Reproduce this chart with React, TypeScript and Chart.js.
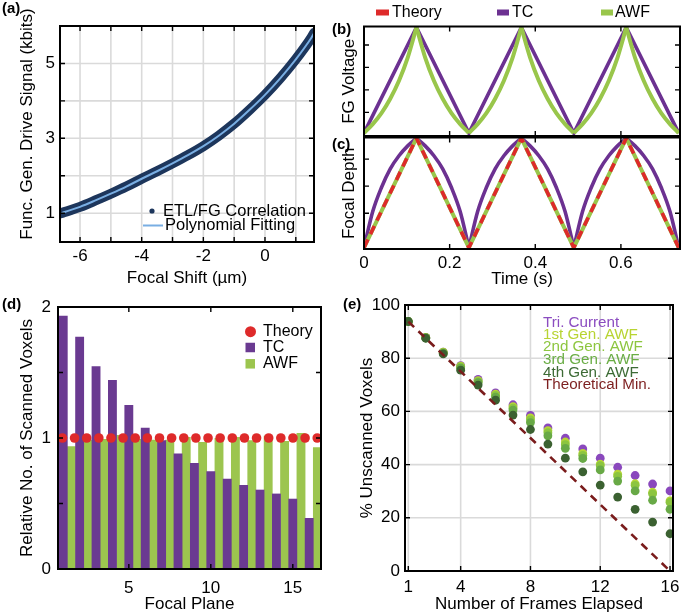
import React, { useEffect, useRef } from "react";
import { Chart, registerables } from "chart.js";

Chart.register(...registerables);

const FONT = "'Liberation Sans', Arial, Helvetica, sans-serif";
const W = 682;
const H = 615;
const TICK_SIZE = 17;
const TITLE_SIZE = 17;

// ---------------- (a) ----------------
const focalShift = [-6.6, -6.5, -6, -5.5, -5, -4.5, -4, -3.5, -3, -2.5, -2, -1.5, -1, -0.5, 0, 0.5, 1, 1.5, 1.6];
const etlFgSignal = [1.0, 1.03, 1.17, 1.34, 1.52, 1.71, 1.92, 2.12, 2.33, 2.55, 2.79, 3.07, 3.39, 3.76, 4.16, 4.61, 5.11, 5.68, 5.82];
const fitSignal = [1.0, 1.03, 1.17, 1.34, 1.52, 1.71, 1.92, 2.12, 2.33, 2.55, 2.79, 3.07, 3.39, 3.76, 4.16, 4.61, 5.11, 5.68, 5.82];
const shiftTicks = [-6, -5, -4, -3, -2, -1, 0, 1];
const shiftTickLabels = [-6, -4, -2, 0];
const signalTicks = [1, 2, 3, 4, 5, 6];
const signalTickLabels = [1, 3, 5];

// ---------------- (b) / (c) ----------------
const vertexTime = [0, 0.1225, 0.245, 0.3675, 0.49, 0.6125, 0.735];
const tcVoltage = [1.08, 5.78, 1.08, 5.78, 1.08, 5.78, 1.08];
const theoryDepth = [-6.55, 1.55, -6.55, 1.55, -6.55, 1.55, -6.55];
const awfDepth = [-6.55, 1.55, -6.55, 1.55, -6.55, 1.55, -6.55];
const sampleTime = [
  0, 0.0204, 0.0408, 0.0613, 0.0817, 0.1021, 0.1225, 0.1429, 0.1633, 0.1838, 0.2042, 0.2246, 0.245,
  0.2654, 0.2858, 0.3063, 0.3267, 0.3471, 0.3675, 0.3879, 0.4083, 0.4288, 0.4492, 0.4696, 0.49,
  0.5104, 0.5308, 0.5513, 0.5717, 0.5921, 0.6125, 0.6329, 0.6533, 0.6738, 0.6942, 0.7146, 0.735,
];
const awfVoltage = [
  1.08, 1.48, 1.97, 2.61, 3.41, 4.44, 5.78, 4.44, 3.41, 2.61, 1.97, 1.48, 1.08,
  1.48, 1.97, 2.61, 3.41, 4.44, 5.78, 4.44, 3.41, 2.61, 1.97, 1.48, 1.08,
  1.48, 1.97, 2.61, 3.41, 4.44, 5.78, 4.44, 3.41, 2.61, 1.97, 1.48, 1.08,
];
const tcDepth = [
  -6.55, -3.88, -2.1, -0.72, 0.25, 0.98, 1.55, 0.98, 0.25, -0.72, -2.1, -3.88, -6.55,
  -3.88, -2.1, -0.72, 0.25, 0.98, 1.55, 0.98, 0.25, -0.72, -2.1, -3.88, -6.55,
  -3.88, -2.1, -0.72, 0.25, 0.98, 1.55, 0.98, 0.25, -0.72, -2.1, -3.88, -6.55,
];
const timeTicks = [0, 0.2, 0.4, 0.6];
const voltageTicks = [2, 3, 4, 5];
const depthTicks = [-4, -2, 0];

// ---------------- (d) ----------------
const focalPlane = [1, 2, 3, 4, 5, 6, 7, 8, 9, 10, 11, 12, 13, 14, 15, 16];
const awfBarPlane = [1.5, 2.5, 3.5, 4.5, 5.5, 6.5, 7.5, 8.5, 9.5, 10.5, 11.5, 12.5, 13.5, 14.5, 15.5, 16.5];
const tcVoxels = [1.93, 1.77, 1.545, 1.44, 1.25, 1.075, 0.98, 0.88, 0.807, 0.743, 0.687, 0.639, 0.603, 0.573, 0.534, 0.387];
const awfVoxels = [0.935, 0.985, 0.99, 1.02, 0.99, 0.985, 0.985, 1.005, 0.967, 0.998, 1.005, 0.98, 1.015, 0.975, 1.036, 0.926];
const theoryPlane = [0.95, 1.69, 2.43, 3.17, 3.91, 4.65, 5.39, 6.13, 6.87, 7.61, 8.35, 9.09, 9.83, 10.57, 11.31, 12.05, 12.79, 13.53, 14.27, 15.01, 15.75, 16.49];
const theoryVoxels = [1, 1, 1, 1, 1, 1, 1, 1, 1, 1, 1, 1, 1, 1, 1, 1, 1, 1, 1, 1, 1, 1];
const planeTicks = [5, 10, 15];
const voxelTicks = [0, 0.5, 1, 1.5, 2];
const voxelTickLabels = [0, 1, 2];

// ---------------- (e) ----------------
const frames = [1, 2, 3, 4, 5, 6, 7, 8, 9, 10, 11, 12, 13, 14, 15, 16];
const triCurrent = [93.8, 87.8, 82.3, 77.2, 72.0, 67.0, 62.5, 58.5, 53.8, 49.9, 45.9, 42.4, 39.0, 35.9, 32.7, 30.1];
const gen1Awf = [93.8, 87.8, 82.3, 77.0, 71.6, 66.5, 61.8, 57.6, 52.8, 48.5, 44.2, 40.2, 36.4, 32.8, 29.6, 26.4];
const gen2Awf = [93.8, 87.7, 82.1, 76.7, 71.2, 66.0, 61.2, 56.8, 52.0, 47.5, 43.5, 39.6, 35.6, 32.2, 29.0, 25.8];
const gen3Awf = [93.8, 87.6, 81.9, 76.3, 70.8, 65.4, 60.5, 55.8, 50.8, 46.1, 42.3, 38.0, 33.8, 30.1, 26.6, 23.2];
const gen4Awf = [93.8, 87.5, 81.6, 75.5, 69.9, 64.2, 58.6, 53.2, 47.7, 42.4, 37.3, 32.3, 27.8, 23.2, 18.4, 14.0];
const minFrames = [1, 16];
const minUnscanned = [93.75, 0];
const frameTicks = [1, 4, 8, 12, 16];
const unscannedTicks = [0, 20, 40, 60, 80, 100];

// ---------------- colours ----------------
const PURPLE = "#6c3191";
const GREEN = "#99c64b";
const RED = "#de2a2a";

// ---------------- helpers ----------------
const xy = (xs: number[], ys: number[]) => xs.map((x, i) => ({ x, y: ys[i] }));
const halves = (xs: number[], ys: number[]) => {
  const out: { x: number; y: number }[][] = [];
  for (let s = 0; s + 6 < xs.length; s += 6) out.push(xy(xs.slice(s, s + 7), ys.slice(s, s + 7)));
  return out;
};

type Area = { l: number; t: number; r: number; b: number };

interface AxisSpec {
  min: number;
  max: number;
  ticks: number[];
  labels: number[] | null;
  fmt?: (v: number) => string;
  size: number;
  horizontal: boolean;
  title?: string;
  titlePad?: number;
  tickPad?: number;
}

function axis(o: AxisSpec) {
  const fmt = o.fmt || ((v: number) => String(v));
  return {
    type: "linear",
    min: o.min,
    max: o.max,
    offset: false,
    afterBuildTicks: (s: any) => {
      s.ticks = o.ticks.map((v) => ({ value: v }));
    },
    afterFit: (s: any) => {
      if (o.horizontal) {
        s.height = o.size;
        s.paddingLeft = 0;
        s.paddingRight = 0;
      } else {
        s.width = o.size;
        s.paddingTop = 0;
        s.paddingBottom = 0;
      }
    },
    grid: { display: false, drawTicks: false },
    border: { display: false },
    ticks: {
      display: o.labels !== null,
      padding: o.tickPad ?? 4,
      autoSkip: false,
      maxRotation: 0,
      color: "#000",
      font: { size: TICK_SIZE, family: FONT },
      callback: (v: any) => (o.labels && o.labels.includes(v) ? fmt(v) : ""),
    },
    title: o.title
      ? {
          display: true,
          text: o.title,
          color: "#000",
          font: { size: TITLE_SIZE, family: FONT },
          padding: o.horizontal ? { top: 0, bottom: o.titlePad ?? 0 } : { top: o.titlePad ?? 0, bottom: 0 },
        }
      : { display: false },
  };
}

type LegendItem = {
  text: string;
  tx: number;
  y: number;
  textColor?: string;
  marker?: "dot" | "line" | "rect" | "square";
  color?: string;
  mx?: number;
  mw?: number;
  mh?: number;
  size?: number;
};

type FreeText = { text: string; x: number; y: number; size: number; rotate?: number };

type Deco = {
  label: { text: string; x: number; y: number };
  legend: LegendItem[];
  grid?: boolean;
  texts?: FreeText[];
};

function decoPlugin(spec: Deco) {
  return {
    id: "deco",
    beforeDatasetsDraw(chart: any) {
      if (!spec.grid) return;
      const { ctx, chartArea: a, scales } = chart;
      ctx.save();
      ctx.strokeStyle = "#dadada";
      ctx.lineWidth = 1.6;
      ctx.beginPath();
      for (const t of scales.x.ticks) {
        const p = scales.x.getPixelForValue(t.value);
        if (p < a.left + 1 || p > a.right - 1) continue;
        ctx.moveTo(p, a.top);
        ctx.lineTo(p, a.bottom);
      }
      for (const t of scales.y.ticks) {
        const p = scales.y.getPixelForValue(t.value);
        if (p < a.top + 1 || p > a.bottom - 1) continue;
        ctx.moveTo(a.left, p);
        ctx.lineTo(a.right, p);
      }
      ctx.stroke();
      ctx.restore();
    },
    afterDraw(chart: any) {
      const { ctx, chartArea: a, scales } = chart;
      const xs = scales.x;
      const ys = scales.y;
      ctx.save();
      // inward tick marks on all four sides
      ctx.strokeStyle = "#000";
      ctx.lineWidth = 1.4;
      const tl = 5;
      ctx.beginPath();
      for (const t of xs.ticks) {
        const p = xs.getPixelForValue(t.value);
        if (p < a.left + 1 || p > a.right - 1) continue;
        ctx.moveTo(p, a.bottom);
        ctx.lineTo(p, a.bottom - tl);
        ctx.moveTo(p, a.top);
        ctx.lineTo(p, a.top + tl);
      }
      for (const t of ys.ticks) {
        const p = ys.getPixelForValue(t.value);
        if (p < a.top + 1 || p > a.bottom - 1) continue;
        ctx.moveTo(a.left, p);
        ctx.lineTo(a.left + tl, p);
        ctx.moveTo(a.right, p);
        ctx.lineTo(a.right - tl, p);
      }
      ctx.stroke();
      // frame
      ctx.lineWidth = 2;
      ctx.strokeRect(a.left, a.top, a.right - a.left, a.bottom - a.top);
      // legend
      for (const it of spec.legend) {
        if (it.marker === "dot") {
          ctx.fillStyle = it.color;
          ctx.beginPath();
          ctx.arc(it.mx, it.y, it.mw, 0, Math.PI * 2);
          ctx.fill();
        } else if (it.marker === "line") {
          ctx.strokeStyle = it.color;
          ctx.lineWidth = it.mh || 2;
          ctx.beginPath();
          ctx.moveTo(it.mx, it.y);
          ctx.lineTo(it.mx + it.mw, it.y);
          ctx.stroke();
        } else if (it.marker === "rect" || it.marker === "square") {
          ctx.fillStyle = it.color;
          ctx.fillRect(it.mx, it.y - it.mh / 2, it.mw, it.mh);
        }
        ctx.fillStyle = it.textColor || "#000";
        ctx.font = `${it.size || 16}px ${FONT}`;
        ctx.textAlign = "left";
        ctx.textBaseline = "middle";
        ctx.fillText(it.text, it.tx, it.y);
      }
      // free texts (axis titles placed off-centre)
      for (const t of spec.texts || []) {
        ctx.save();
        ctx.translate(t.x, t.y);
        if (t.rotate) ctx.rotate(t.rotate);
        ctx.fillStyle = "#000";
        ctx.font = `${t.size}px ${FONT}`;
        ctx.textAlign = "center";
        ctx.textBaseline = "middle";
        ctx.fillText(t.text, 0, 0);
        ctx.restore();
      }
      // panel label
      ctx.fillStyle = "#000";
      ctx.font = `bold 15px ${FONT}`;
      ctx.textAlign = "left";
      ctx.textBaseline = "top";
      ctx.fillText(spec.label.text, spec.label.x, spec.label.y);
      ctx.restore();
    },
  };
}

function config(type: string, datasets: any[], area: Area, x: any, y: any, yW: number, xH: number, deco: Deco) {
  return {
    type,
    data: { datasets },
    options: {
      responsive: false,
      maintainAspectRatio: false,
      animation: false,
      devicePixelRatio: 1,
      events: [],
      layout: {
        padding: { left: area.l - yW, top: area.t, right: W - area.r, bottom: H - area.b - xH },
      },
      plugins: { legend: { display: false }, tooltip: { enabled: false }, title: { display: false } },
      scales: { x, y },
    },
    plugins: [decoPlugin(deco)],
  };
}

// ---------------- panels ----------------
function makeA() {
  const area = { l: 60, t: 26, r: 314, b: 242 };
  const x = axis({ min: -6.65, max: 1.59, ticks: shiftTicks, labels: shiftTickLabels, size: 50, horizontal: true, title: "Focal Shift (\u00b5m)", titlePad: 3.8, tickPad: 3.8 });
  const y = axis({ min: 0.23, max: 6.0, ticks: signalTicks, labels: signalTickLabels, size: 60, horizontal: false, tickPad: 5 });
  const datasets = [
    { type: "scatter", label: "Polynomial Fitting", data: xy(focalShift, fitSignal), showLine: true, borderColor: "#79aee3", borderWidth: 2, pointRadius: 0, cubicInterpolationMode: "monotone", order: 0 },
    { type: "scatter", label: "ETL/FG Correlation", data: xy(focalShift, etlFgSignal), showLine: true, borderColor: "#1d365c", borderWidth: 10, borderCapStyle: "round", pointRadius: 0, cubicInterpolationMode: "monotone", order: 1 },
  ];
  return config("scatter", datasets, area, x, y, 60, 50, {
    label: { text: "(a)", x: 2, y: 1 },
    grid: true,
    texts: [{ text: "Func. Gen. Drive Signal (kbits)", x: 27, y: 124, size: TITLE_SIZE, rotate: -Math.PI / 2 }],
    legend: [
      { text: "ETL/FG Correlation", tx: 163, y: 211, marker: "dot", color: "#1d365c", mx: 152, mw: 2.6, size: 16.5 },
      { text: "Polynomial Fitting", tx: 165, y: 225.5, marker: "line", color: "#79aee3", mx: 143, mw: 20, mh: 2, size: 16.5 },
    ],
  });
}

function makeB() {
  const area = { l: 364, t: 26.5, r: 680, b: 136 };
  const x = axis({ min: 0, max: 0.738, ticks: timeTicks, labels: null, size: 1, horizontal: true });
  const y = axis({ min: 0.95, max: 5.82, ticks: voltageTicks, labels: null, size: 24, horizontal: false, title: "FG Voltage", titlePad: -1 });
  const awf = halves(sampleTime, awfVoltage).map((d) => ({
    label: "AWF", data: d, borderColor: GREEN, borderWidth: 4, pointRadius: 0, cubicInterpolationMode: "monotone", order: 0,
  }));
  const datasets = [
    ...awf,
    { label: "TC", data: xy(vertexTime, tcVoltage), borderColor: PURPLE, borderWidth: 3.6, pointRadius: 0, tension: 0, order: 1 },
  ];
  return config("line", datasets, area, x, y, 24, 1, {
    label: { text: "(b)", x: 332, y: 22 },
    legend: [
      { text: "Theory", tx: 392, y: 12.5, marker: "rect", color: RED, mx: 376, mw: 13, mh: 6 },
      { text: "TC", tx: 512, y: 12.5, marker: "rect", color: PURPLE, mx: 497, mw: 12, mh: 6 },
      { text: "AWF", tx: 615, y: 12.5, marker: "rect", color: GREEN, mx: 601, mw: 12, mh: 6 },
    ],
  });
}

function makeC() {
  const area = { l: 364, t: 137.5, r: 680, b: 249 };
  const x = axis({ min: 0, max: 0.738, ticks: timeTicks, labels: timeTicks, fmt: (v) => (v === 0 ? "0" : v.toFixed(1)), size: 45, horizontal: true, title: "Time (s)", titlePad: 4.8, tickPad: 3.8 });
  const y = axis({ min: -6.65, max: 1.6, ticks: depthTicks, labels: null, size: 24, horizontal: false, title: "Focal Depth", titlePad: -1 });
  const tc = halves(sampleTime, tcDepth).map((d) => ({
    label: "TC", data: d, borderColor: PURPLE, borderWidth: 3.6, pointRadius: 0, cubicInterpolationMode: "monotone", order: 2,
  }));
  const datasets = [
    { label: "Theory", data: xy(vertexTime, theoryDepth), borderColor: RED, borderWidth: 3.6, borderDash: [9, 6], pointRadius: 0, tension: 0, order: 0 },
    { label: "AWF", data: xy(vertexTime, awfDepth), borderColor: GREEN, borderWidth: 4, pointRadius: 0, tension: 0, order: 1 },
    ...tc,
  ];
  return config("line", datasets, area, x, y, 24, 45, {
    label: { text: "(c)", x: 332, y: 137 },
    legend: [],
  });
}

function makeD() {
  const area = { l: 58, t: 307, r: 321, b: 569 };
  const x = axis({ min: 0.68, max: 16.72, ticks: planeTicks, labels: planeTicks, size: 46, horizontal: true, title: "Focal Plane", titlePad: 0.8, tickPad: 8.8 });
  const y = axis({ min: 0, max: 2, ticks: voxelTicks, labels: voxelTickLabels, size: 58, horizontal: false, title: "Relative No. of Scanned Voxels", titlePad: 16.8, tickPad: 7 });
  const datasets = [
    { type: "scatter", label: "Theory", data: xy(theoryPlane, theoryVoxels), pointRadius: 4.8, pointBackgroundColor: RED, pointBorderWidth: 0, order: 0 },
    { type: "bar", label: "TC", data: xy(focalPlane, tcVoxels), backgroundColor: "#6a3a91", borderWidth: 0, grouped: false, categoryPercentage: 1, barPercentage: 1, order: 1 },
    { type: "bar", label: "AWF", data: xy(awfBarPlane, awfVoxels), backgroundColor: "#9cc54f", borderWidth: 0, grouped: false, categoryPercentage: 1, barPercentage: 1, order: 2 },
  ];
  return config("bar", datasets, area, x, y, 58, 46, {
    label: { text: "(d)", x: 2, y: 297 },
    legend: [
      { text: "Theory", tx: 263, y: 331.7, marker: "dot", color: RED, mx: 250.5, mw: 5.5 },
      { text: "TC", tx: 263, y: 347.5, marker: "square", color: "#6a3a91", mx: 245.5, mw: 9.5, mh: 9.5 },
      { text: "AWF", tx: 263, y: 363.8, marker: "square", color: "#9cc54f", mx: 245.5, mw: 9.5, mh: 9.5 },
    ],
  });
}

function makeE() {
  const area = { l: 405, t: 305, r: 673, b: 571 };
  const x = axis({ min: 0.81, max: 16.17, ticks: frameTicks, labels: frameTicks, size: 44, horizontal: true, title: "Number of Frames Elapsed", titlePad: 0, tickPad: 5.8 });
  const y = axis({ min: 0, max: 100, ticks: unscannedTicks, labels: unscannedTicks, size: 65, horizontal: false, title: "% Unscanned Voxels", titlePad: 16.8, tickPad: 5 });
  const pt = (label: string, ys: number[], color: string, order: number) => ({
    label, data: xy(frames, ys), pointRadius: 4.4, pointBackgroundColor: color, pointBorderWidth: 0, showLine: false, order,
  });
  const datasets = [
    { label: "Theoretical Min.", data: xy(minFrames, minUnscanned), showLine: true, borderColor: "#7a1c1c", borderWidth: 2.6, borderDash: [8, 6], pointRadius: 0, order: 0 },
    pt("4th Gen. AWF", gen4Awf, "#3b6131", 1),
    pt("3rd Gen. AWF", gen3Awf, "#68a946", 2),
    pt("2nd Gen. AWF", gen2Awf, "#8cc540", 3),
    pt("1st Gen. AWF", gen1Awf, "#b6d535", 4),
    pt("Tri. Current", triCurrent, "#8a48bd", 5),
  ];
  const lx = 543;
  const fs = 15.2;
  return config("scatter", datasets, area, x, y, 65, 44, {
    label: { text: "(e)", x: 343, y: 297 },
    grid: true,
    legend: [
      { text: "Tri. Current", tx: lx, y: 322.7, textColor: "#8b4cc0", size: fs },
      { text: "1st Gen. AWF", tx: lx, y: 335, textColor: "#b8d432", size: fs },
      { text: "2nd Gen. AWF", tx: lx, y: 347.3, textColor: "#8dc63f", size: fs },
      { text: "3rd Gen. AWF", tx: lx, y: 360, textColor: "#6aad45", size: fs },
      { text: "4th Gen. AWF", tx: lx, y: 372.7, textColor: "#3d6b35", size: fs },
      { text: "Theoretical Min.", tx: lx, y: 385, textColor: "#7d1f1f", size: fs },
    ],
  });
}

function ChartCanvas({ make }: { make: () => any }) {
  const ref = useRef<HTMLCanvasElement>(null);
  useEffect(() => {
    const chart = new Chart(ref.current as HTMLCanvasElement, make() as any);
    return () => chart.destroy();
  }, [make]);
  return (
    <canvas
      ref={ref}
      width={W}
      height={H}
      style={{ position: "absolute", left: 0, top: 0, width: W, height: H }}
    />
  );
}

export default function App() {
  Chart.defaults.font.family = FONT;
  Chart.defaults.color = "#000";
  return (
    <div style={{ position: "absolute", left: 0, top: 0, width: W, height: H, background: "#fff", overflow: "hidden" }}>
      <ChartCanvas make={makeA} />
      <ChartCanvas make={makeB} />
      <ChartCanvas make={makeC} />
      <ChartCanvas make={makeD} />
      <ChartCanvas make={makeE} />
    </div>
  );
}
